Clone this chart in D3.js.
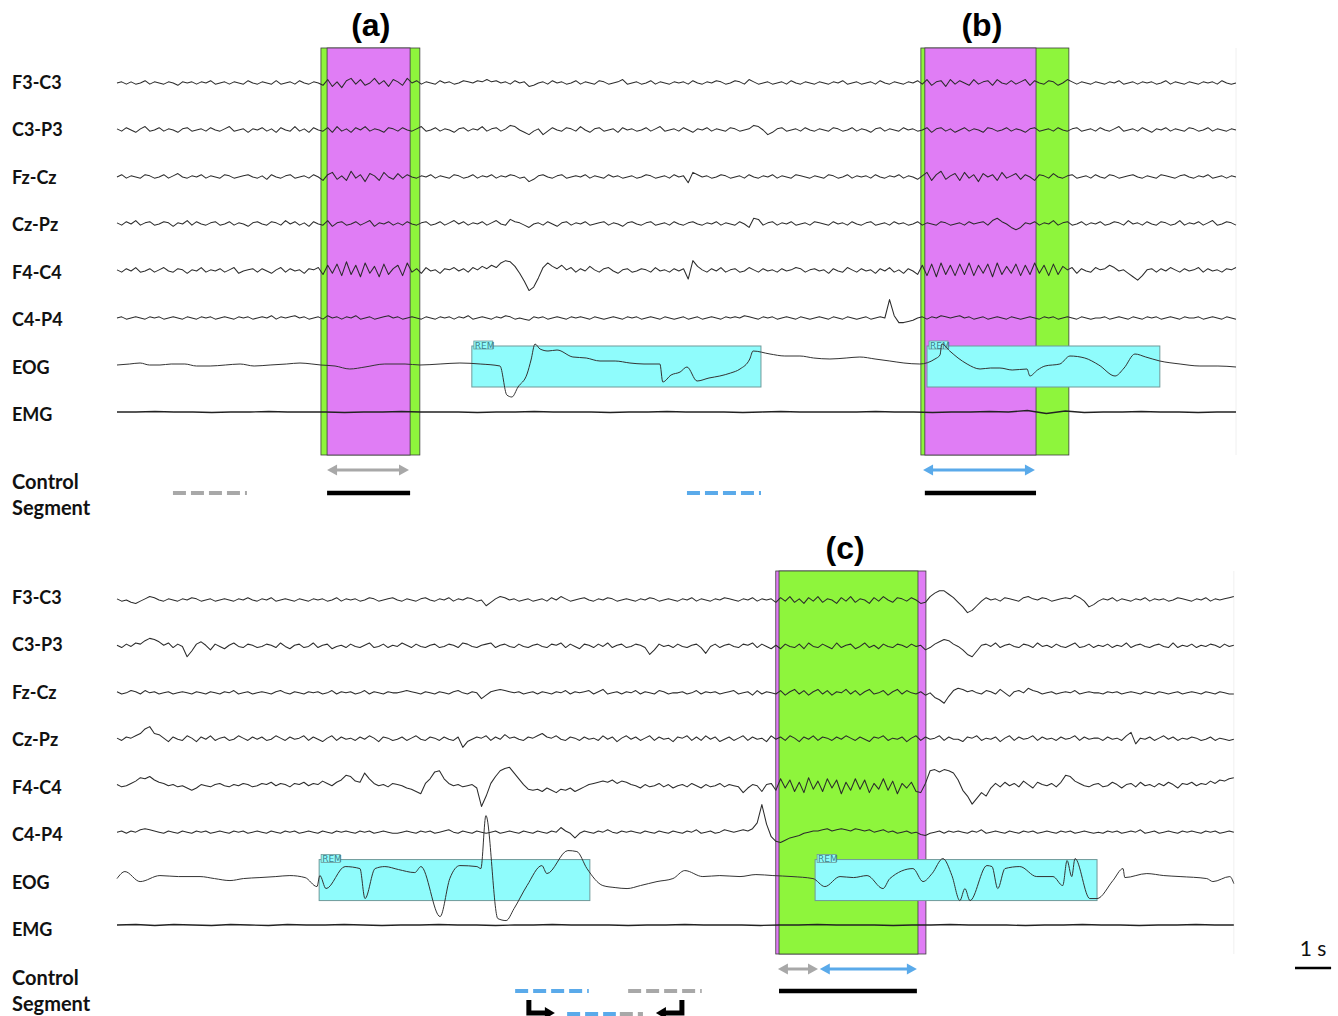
<!DOCTYPE html>
<html>
<head>
<meta charset="utf-8">
<script src="https://cdn.jsdelivr.net/npm/d3@7"></script>
<style>
  body { margin: 0; background: #fff; }
  text { font-family: Lato, "Open Sans", sans-serif; }
</style>
</head>
<body>
<script>
// channel names, top to bottom
let channels = ["F3-C3", "C3-P3", "Fz-Cz", "Cz-Pz", "F4-C4", "C4-P4", "EOG", "EMG"];

// ---- panel 1 (epochs a and b): EEG amplitudes, evenly sampled over 31 s ----
let p1_F3C3 = [0,1,-1,1,-1,0,2,-1,1,0, -1,1,0,-2,1,0,1,-1,1,0, 2,-1,0,1,-1,1,0,-1,2,0,
  -1,1,0,-1,2,-1,0,1,-1,2, 0,-1,1,0,-2,3,-3,1,-4,2, 4,-1,3,-2,0,4,-1,2,-3,3,
  1,-2,4,0,2,-1,1,0,-1,2, 0,1,-1,0,2,1,0,2,1,3, 1,2,0,1,-1,2,0,1,-3,-2,
  0,1,-1,2,0,1,-1,0,2,-1, 1,0,-1,2,1,-1,0,1,3,-1, 0,1,-1,0,2,-1,1,0,-1,1,
  0,1,-1,2,0,-1,1,0,2,1, -1,0,2,1,-1,3,1,-1,0,1, -1,0,1,-1,2,0,-1,1,0,-1,
  1,0,-1,1,0,2,-1,0,1,-1, 0,1,-1,2,0,-1,1,0,-1,1, 0,2,-1,3,-2,1,2,-3,3,-1,
  2,0,-2,3,-1,1,2,-2,3,0, -1,2,-1,1,3,-2,2,0,-1,2, 1,-2,0,3,1,-1,1,0,-1,1,
  0,-1,1,0,2,-1,0,1,-1,1, 0,1,-1,0,2,-1,1,0,-1,1, 0,-1,1,0,1,-1,2,0,-1,0];
let p1_C3P3 = [1,-1,2,0,-2,1,3,-1,0,2, -1,1,0,-2,1,2,-1,0,1,-1, 2,0,-1,1,3,-1,0,1,-2,1,
  0,2,-1,1,-2,2,0,-1,3,-1, 1,-2,2,0,-1,2,-2,3,-1,1, -2,2,0,3,-1,1,0,-2,2,1,
  -1,2,0,-1,1,3,-1,0,2,-1, 1,0,-2,1,2,-1,1,0,3,-1, 1,2,-1,1,4,3,0,-2,-4,-1,
  1,-4,-1,2,0,-1,2,1,-1,3, 0,-2,1,2,-1,0,1,-2,2,0, 1,-1,0,2,-1,1,3,-1,0,1,
  -1,2,0,-2,1,0,2,-1,1,0, -1,2,1,-1,0,1,4,3,0,-4, -2,1,2,-1,0,1,-1,2,0,-1,
  1,0,-1,2,1,-1,0,2,-1,1, 0,-2,1,2,-1,1,0,-1,2,0, 1,-1,0,2,-2,1,2,-1,1,-2,
  0,2,-1,1,0,-2,2,1,-1,0, 2,-1,1,0,-2,1,2,-1,0,1, -1,2,0,-1,1,2,-1,0,1,-1,
  2,0,-1,1,3,-1,0,1,-1,2, 0,-2,1,0,2,-1,1,0,-1,2, 1,-1,0,2,-1,1,0,-1,1,0];
let p1_FzCz = [0,2,-1,1,0,-1,2,1,-1,0, 2,-1,1,3,0,-1,1,0,2,-1, 1,0,-1,2,1,-1,0,1,2,0,
  -1,1,-2,2,0,-1,1,2,-1,0, 1,-1,2,0,-3,2,4,-2,1,-3, 5,-1,2,-4,3,1,-3,4,0,-2,
  3,-1,2,0,-1,1,0,2,-1,1, 0,-1,2,1,-1,0,2,-1,1,0, 2,-1,1,0,2,1,-1,0,-4,-2,
  1,2,0,-1,1,2,-1,0,1,0, 2,-1,1,0,-1,2,0,1,-1,0, 1,-1,0,2,1,-1,0,1,-1,2,
  0,1,-5,4,2,0,1,-1,0,2, 1,-1,0,1,-1,2,0,-1,1,0, 2,-1,1,0,-1,2,1,0,-1,1,
  0,-1,2,1,-1,0,2,-1,1,0, 1,-1,2,0,-1,1,0,2,-1,1, 0,-2,1,4,-3,2,5,-2,1,3,
  -3,4,-1,2,-4,3,0,2,-3,4, -1,1,3,-2,2,0,-3,2,1,-1, 3,0,-1,1,2,-1,0,1,-1,2,
  0,-1,2,1,-1,0,1,2,0,-1, 1,0,-1,2,1,0,-1,1,2,0, -1,1,0,2,-1,0,1,-1,1,0];
let p1_CzPz = [1,-1,2,0,3,-1,1,2,-1,0, 2,1,-2,1,0,3,-1,2,0,-1, 1,2,-1,0,2,-1,1,0,-2,1,
  2,0,-1,2,1,-1,3,0,2,-1, 1,-2,2,0,-1,3,-2,1,2,-1, 0,2,-1,1,3,-2,1,0,2,-1,
  1,-1,2,0,-1,1,2,-1,0,2, -1,1,3,0,2,-1,1,0,2,-1, 1,3,0,-1,4,2,1,-1,-3,0,
  1,-1,2,0,-2,1,2,-1,1,0, 2,-1,0,1,2,-1,1,0,-2,1, 2,0,-1,1,2,-1,0,1,-1,2,
  0,-1,1,2,0,-1,1,0,2,-1, 1,0,-1,2,0,-3,5,4,-1,1, 2,-1,1,0,2,-1,0,1,-1,2,
  1,0,-1,2,0,1,-1,2,0,-1, 1,2,-1,0,1,-1,2,0,1,-1, 0,2,-1,1,0,-1,2,1,-1,0,
  1,-1,2,0,1,2,-1,3,5,2, 0,-3,-5,-3,1,0,2,-1,1,0, 3,-1,1,2,-1,0,2,-1,1,0,
  2,-1,0,2,1,-1,3,0,1,-1, 2,0,-1,2,1,-1,0,3,-1,1, 0,2,-1,1,3,-1,0,2,1,-1];
let p1_F4C4 = [1,-1,2,0,3,-1,0,2,-1,1, 3,0,-1,2,1,-2,1,0,3,-1, 1,0,2,-1,1,3,-2,0,1,2,
  -1,2,0,-2,1,3,-1,2,0,1, -2,2,1,3,-3,5,-2,6,-4,8, -3,5,-5,7,-2,4,-5,6,-3,2,
  5,-4,7,-1,2,-2,3,0,1,-2, 2,1,3,0,2,-1,3,1,4,2, 5,3,7,9,8,4,-2,-9,-17,-14,
  -6,3,7,4,2,5,1,3,-1,2, 0,4,1,-1,2,3,0,-2,1,2, -1,0,2,1,-1,3,0,1,-1,2,
  0,2,-7,9,4,1,-1,2,0,3, -1,1,2,-1,0,3,1,-1,2,0, 1,-1,2,0,1,3,2,-1,1,2,
  0,1,-2,2,0,-1,3,1,-1,2, 0,1,-2,2,0,3,-1,1,-2,2, 0,-3,5,-4,6,-5,7,-3,5,-4,
  6,-3,7,-4,5,-2,6,-5,7,-3, 4,-2,6,-4,5,-3,7,-2,5,-4, 6,-3,4,1,3,-2,2,0,-1,3,
  1,2,5,3,0,1,-2,-5,-8,-4, 1,2,-1,2,0,3,1,-1,2,0, 1,3,-1,2,0,1,-1,2,1,3];
let p1_C4P4 = [0,1,-1,0,1,0,-1,1,0,1, -1,0,1,0,-1,1,0,-1,1,0, 1,-1,0,1,0,-1,1,0,1,-1,
  0,1,0,2,-1,1,0,1,2,0, 1,-1,0,1,-1,2,0,1,-1,1, 0,2,-1,0,1,-1,0,1,2,0,
  1,-1,0,1,0,-1,1,0,-1,1, 0,1,-1,1,0,2,-1,0,1,0, -1,1,0,2,1,-1,0,-1,-2,1,
  0,1,-1,0,1,0,-1,1,0,1, 0,-1,1,0,-1,0,1,0,-1,1, 0,1,-1,0,1,0,-1,1,0,-1,
  0,1,-1,0,1,-1,0,1,0,-1, 1,0,1,0,2,1,0,-1,1,0, 1,-1,0,1,0,-1,1,0,-1,0,
  1,0,-1,1,0,-1,1,0,-1,0, 1,-1,0,1,0,16,2,-4,-4,-3, -2,0,1,-1,1,0,2,1,0,1,
  2,0,1,-1,0,1,-1,0,1,0, -1,1,0,-1,0,1,0,-1,1,0, 1,-1,0,1,0,-1,1,0,-1,0,
  0,1,-1,0,1,0,-1,1,0,-1, 1,0,1,-1,0,1,0,-1,1,0, 0,1,-1,0,1,0,-1,1,0,-1];
// EOG as [seconds, amplitude]
let p1_EOG = [[0,0],[0.35,1],[0.64,2],[0.9,0],[1.19,0],[1.5,1],[1.88,1],[2.2,-1],[2.58,-1],[3.0,0],
  [3.41,1],[3.8,-1],[4.24,0],[4.7,1],[5.07,2],[5.4,1],[5.65,0],[6.04,-1],[6.45,-4],[6.87,-2],
  [7.42,1],[7.98,1],[8.39,0],[8.95,1],[9.5,2],[10.06,1],[10.61,-1],[10.8,-30],[10.94,-32],[11.11,-22],
  [11.36,-9],[11.47,5],[11.58,21],[11.72,16],[11.94,14],[12.19,15],[12.63,8],[13.0,7],[13.38,4],[13.8,4],
  [14.21,2],[14.6,1],[15.04,1],[15.12,-17],[15.35,-10],[15.6,-7],[15.79,-2],[16.07,-16],[16.4,-13],[16.7,-11],
  [17.0,-8],[17.26,-4],[17.53,6],[17.62,14],[18.09,11],[18.5,9],[18.92,9],[19.3,7],[19.75,6],[20.2,7],
  [20.58,8],[21.0,6],[21.41,4],[21.8,2],[22.24,1],[22.66,6],[22.8,10],[22.85,21],[23.07,14],[23.3,7],
  [23.55,1],[23.91,-4],[24.2,-3],[24.46,-3],[24.8,-5],[25.21,-4],[25.29,-11],[25.5,-5],[25.71,-1],[26.12,1],
  [26.4,9],[26.81,7],[27.2,0],[27.65,-11],[27.9,-3],[28.2,11],[28.5,8],[28.89,4],[29.45,1],[30.0,-1],
  [30.5,-1],[31.0,-2]];
let p1_EMG = [0,0,0.5,0,0,-0.5,0,0,0.5,0, 0,0,-0.5,0,0,0.5,0,0,0,-0.5, 0,0,0.5,0,0,0,-0.5,0,0,0.5,
  0,0,0,-0.5,0,0.5,0,0,0,0, 0.5,0,0,-0.5,0,0,0.5,0,1.5,-1.5, 1,-0.5,0,0,0.5,0,0,-0.5,0,0];

// ---- panel 2 (epoch c) ----
let p2_F3C3 = [1,-1,0,-2,-3,-1,1,3,2,0, -1,1,0,-1,1,0,2,1,-1,0, 1,-1,0,1,0,-1,1,0,2,0,
  -1,1,0,2,-1,0,1,0,-1,1, 0,-1,1,0,1,-1,0,2,-1,1, 0,1,-1,0,2,1,-1,0,1,2,
  0,-1,1,0,-1,1,2,0,-1,1, 0,2,-1,1,0,2,1,-1,0,-5, -2,1,3,2,0,1,-1,0,1,-1,
  0,1,-1,2,0,3,1,-1,0,1, 2,0,-1,1,0,2,1,-1,0,1, 0,-1,1,0,2,1,-1,0,1,0,
  -1,1,0,2,-1,1,0,-1,1,0, 2,1,0,-1,1,0,2,-1,1,0, 1,-2,2,-1,3,-2,1,-3,2,-1,
  3,-2,1,0,-3,2,-1,3,-2,1, 0,-3,2,-1,3,0,-2,2,1,-1, 2,0,-3,-2,3,6,8,8,5,2,
  -2,-6,-11,-9,-5,-1,2,0,1,-1, 2,1,0,-1,2,3,1,0,2,1, -1,0,1,2,1,4,2,-1,-6,-4,
  -1,1,0,2,-1,1,0,-1,1,0, 2,-1,1,0,1,-1,0,2,1,0, -1,1,0,2,-1,1,0,1,2,3];
let p2_C3P3 = [1,-1,2,0,3,2,5,7,6,4, 1,3,-1,2,0,-9,-4,2,4,1, -3,2,0,-2,1,3,0,-1,2,1,
  -1,0,2,1,-1,3,0,-2,1,2, -1,0,3,-1,1,2,-2,0,1,-1, 2,0,-1,1,3,-1,0,2,-1,1,
  0,3,1,-1,2,0,-1,1,2,-1, 0,2,1,-1,3,2,0,-1,1,2, 3,-1,1,2,0,-1,2,0,-1,1,
  2,0,-1,2,1,3,-1,2,0,-2, 2,1,-1,2,0,3,-1,1,2,-1, 0,2,1,-1,-7,-3,2,0,1,-1,
  2,0,-1,1,2,-1,-6,0,2,-1, 1,2,0,-1,2,1,3,-1,2,0, -2,1,-2,2,0,-1,2,-2,3,0,
  -1,2,0,-2,3,-1,1,2,-2,0, 3,-1,1,-2,2,0,-1,2,1,-1, 2,0,1,-3,-1,2,4,6,5,2,
  0,-3,-7,-9,-4,1,2,0,3,-1, 1,2,0,-1,2,1,-1,3,0,1, -1,2,0,-1,1,3,-1,0,2,-1,
  1,0,2,-1,1,0,3,-1,1,2, 0,-1,1,2,0,-1,3,-1,1,0, 2,-1,1,0,2,1,-1,2,0,1];
let p2_FzCz = [1,-1,0,2,1,-1,2,0,1,-1, 0,1,-1,0,1,0,-1,1,0,-1, 1,0,-1,1,0,2,-1,0,1,-1,
  0,1,0,-1,1,2,0,-1,1,0, -1,1,0,1,-1,0,2,-1,1,0, 1,-1,0,2,-1,1,0,-1,1,0,
  0,1,2,1,0,-1,1,0,-1,1, 0,-1,1,2,0,-1,1,0,-5,-2, 1,2,3,2,1,0,1,-1,0,1,
  -1,1,0,-1,1,0,2,-1,1,0, 1,2,-1,1,3,-1,0,1,-1,1, 0,2,-1,1,0,-1,2,1,-1,0,
  0,1,-1,0,2,-1,1,0,1,-1, 0,1,2,-1,0,1,-2,2,-1,1, 0,-1,2,-2,1,3,-1,2,-2,1,
  3,-1,2,-2,1,0,3,-1,2,-2, 1,3,-1,0,2,-2,1,3,-1,2, 0,-1,1,-2,0,-4,-6,-9,-3,2,
  4,3,1,2,0,-1,2,1,-1,3, 0,-3,1,2,0,4,2,1,-1,0, 1,-1,0,1,0,2,-1,0,1,0,
  0,-1,1,0,1,-1,0,1,0,-1, 1,0,-1,1,0,-1,0,1,-1,0, 1,0,-1,1,0,-1,1,0,-1,-1];
let p2_CzPz = [1,-1,2,1,3,5,9,11,5,4, 1,-2,2,0,-1,3,1,-2,2,0, 3,-1,1,2,-1,0,3,1,-1,2,
  0,2,-1,0,3,1,-1,2,0,1, 3,-1,2,0,-2,1,3,-1,2,0, 1,-1,2,0,3,1,-2,2,1,-1,
  0,2,-1,1,3,0,-1,2,1,-1, 2,0,-1,2,-7,-2,0,2,1,3, -1,2,0,4,1,2,0,-1,2,1,
  3,5,2,1,3,0,-1,2,1,-1, 2,0,1,-1,3,0,2,-2,1,3, 0,2,-1,1,3,-1,2,0,1,-2,
  2,1,3,-1,2,-1,3,0,2,-2, 0,2,-1,1,3,-1,2,0,1,-2, 3,0,2,-1,3,1,-2,2,0,3,
  -1,2,1,-1,2,0,3,1,-1,2, 0,-2,2,1,3,-1,1,0,2,-2, 1,3,-1,2,0,1,3,-1,2,0,
  0,-2,2,1,3,-1,1,0,2,-2, 1,3,-1,2,0,1,3,-1,2,0, 1,-1,2,0,1,3,-1,2,0,1,
  1,-1,2,0,1,-1,3,6,-4,1, 0,2,-1,1,3,0,2,-1,1,0, 2,1,-1,0,2,-1,1,0,-1,0];
let p2_F4C4 = [1,-1,0,2,4,7,6,8,5,3, 2,0,1,-1,0,-2,-4,-2,1,0, -1,1,2,0,-1,1,0,2,1,-1,
  0,2,1,3,0,2,1,-1,2,1, 3,0,2,1,4,2,0,3,5,9, 8,4,3,11,6,2,0,1,-1,2,
  1,0,-2,-3,-5,-7,2,6,12,13, 6,2,0,1,-1,0,1,-2,-18,-9, 2,8,13,15,16,11,6,1,-3,-4,
  -3,-5,-2,-4,-6,-3,-4,-2,-5,-3, -1,1,2,3,4,3,5,2,4,3, 1,0,-2,1,-1,0,2,-1,1,-2,
  0,1,-1,2,0,-2,1,-1,0,2, -1,1,0,-1,-6,-2,1,0,-5,1, 2,-4,6,-2,5,-5,3,-6,7,-3,
  4,-5,6,-2,5,-7,3,-4,6,-3, 5,-6,2,-3,6,-4,4,-7,2,-2, 3,-5,-6,2,13,14,12,14,13,11,
  5,-4,-9,-16,-11,-6,-9,-2,2,-1, 3,0,2,-1,4,1,-2,3,1,0, 2,-1,3,9,8,4,2,0,-1,1,
  2,-1,0,3,1,-2,1,2,-1,3, 0,1,-1,2,0,3,1,-2,2,1, 3,0,2,1,4,2,5,4,6,7];
let p2_C4P4 = [0,1,-1,1,0,2,3,2,1,0, -1,1,0,-1,1,0,-1,1,0,1, -1,0,1,0,-1,1,0,1,-1,0,
  1,0,-1,1,0,-1,1,0,1,-1, 0,1,0,-1,1,0,-1,1,0,1, 0,-1,1,0,1,-1,0,1,0,-1,
  -1,0,1,0,-1,1,0,1,-1,0, 1,2,0,-1,1,0,-1,1,0,-1, 0,1,-1,0,1,0,-1,1,0,-1,
  1,0,-1,1,0,4,1,-1,-5,-1, 1,0,-1,1,0,2,0,-1,1,0, 1,0,-1,1,0,-1,1,0,-1,1,
  0,-1,1,0,2,-1,0,1,-1,0, 2,1,0,1,2,1,3,8,24,7, -4,-8,-9,-7,-5,-4,-3,-1,0,1,
  1,2,3,1,2,3,2,1,3,2, 1,2,0,1,2,0,1,-1,0,1, -1,0,-2,-3,-1,0,1,-1,1,0,
  1,0,-1,1,0,2,-1,0,1,0, -1,1,0,-1,1,0,1,-1,0,1, 0,-1,1,0,1,-1,0,1,0,-1,
  0,-1,1,0,1,-1,0,1,0,2, -1,0,1,-1,0,1,0,-1,1,0, 1,0,-1,1,0,1,-1,0,1,0];
let p2_EOG = [[0,0],[0.22,7],[0.64,-3],[1.19,3],[1.7,2],[2.3,2],[2.7,0],[3.13,-2],[3.5,0],[3.96,1],
  [4.4,2],[4.79,3],[5.21,1],[5.54,-8],[5.62,3],[5.79,-10],[6.32,12],[6.73,10],[6.87,-20],[7.15,10],
  [7.42,12],[7.8,9],[8.25,6],[8.42,12],[8.95,-38],[9.22,0],[9.5,13],[9.97,12],[10.08,10],[10.22,63],
  [10.55,-40],[10.78,-42],[11.0,-30],[11.36,-7],[11.77,13],[11.91,5],[12.49,28],[12.74,27],[13.02,10],[13.46,-7],
  [13.8,-9],[14.13,-10],[14.5,-7],[14.96,-3],[15.4,0],[15.73,8],[16.23,2],[16.7,3],[17.26,2],[17.7,4],
  [18.17,3],[18.7,2],[19.28,0],[19.61,-8],[20.03,2],[20.4,1],[20.78,3],[21.22,-10],[21.41,0],[22.05,10],
  [22.33,-3],[22.58,5],[22.88,20],[23.13,3],[23.35,-22],[23.49,-10],[23.63,-22],[24.1,13],[24.24,12],[24.4,-10],
  [24.6,10],[25.01,12],[25.48,2],[25.93,2],[26.2,-7],[26.32,18],[26.45,2],[26.54,20],[26.95,-20],[27.15,-20],
  [27.59,-2],[27.87,10],[27.92,1],[28.53,5],[29.0,3],[29.45,2],[30.19,0],[30.36,-3],[30.83,2],[30.94,-5]];
let p2_EMG = [0,0.5,-0.5,0.5,0,-0.5,0.5,0,-0.5,0.5, 0,0,0.5,0,-0.5,0,0,0.5,0,0, -0.5,0,0,0.5,0,0,0,-0.5,0,0,
  0.5,0,0,0,-0.5,0,0,0.5,0,0, 0,-0.5,0,0,0.5,0,0,0,-0.5,0, 0,0.5,0,0,-0.5,0,0,0.5,0,0];

// marked epochs (seconds)
let p1_bands = [["green", 5.65, 8.39], ["magenta", 5.82, 8.12], ["green", 22.27, 26.37], ["magenta", 22.38, 25.46]];
let p2_bands = [["magenta", 18.25, 22.41], ["green", 18.34, 22.19]];
let p1_rem = [[9.83, 17.84], [22.44, 28.89]];
let p2_rem = [[5.60, 13.10], [19.34, 27.15]];
let p1_titles = [["(a)", 7.03], ["(b)", 23.96]];
let p2_titles = [["(c)", 20.17]];

// control segment marks: [kind, colour, start, end]
let p1_ctrl = [["dash", "gray", 1.55, 3.60], ["arrow", "gray", 5.82, 8.09], ["bar", "black", 5.82, 8.12],
  ["dash", "blue", 15.79, 17.84], ["arrow", "blue", 22.33, 25.43], ["bar", "black", 22.38, 25.46]];
let p2_ctrl = [["arrow", "gray", 18.31, 19.42], ["arrow", "blue", 19.47, 22.16], ["bar", "black", 18.34, 22.16],
  ["dash", "blue", 11.03, 13.07], ["dash", "gray", 14.16, 16.20]];
// the shifted copy of the two dashed segments under panel c
let p2_shift = [["elbowR", 11.41, 12.13], ["dash", "blue", 12.47, 13.82], ["dash", "gray", 13.93, 14.57], ["elbowL", 15.65, 14.93]];

const colors = { green: "#8ef53c", magenta: "#e07df5", gray: "#a8a8a8", blue: "#5aaaea", black: "#000" };

const width = 1338, height = 1016;
let svg = d3.select("body").append("svg")
  .attr("width", width)
  .attr("height", height);
svg.append("rect").attr("width", width).attr("height", height).attr("fill", "#fff");

let x = d3.scaleLinear().domain([0, 31]).range([117, 1236]);
let amp = d3.scaleLinear().domain([-1, 1]).range([1, -1]);      // EOG / EMG gain
let eegAmp = d3.scaleLinear().domain([-1, 1]).range([1.15, -1.15]);

let panels = [
  { top: 48, bottom: 455, rows: [83, 412], labels: [82, 414], ctrlY: [470, 493], ctrlText: [481, 507], T: 31,
    eeg: [p1_F3C3, p1_C3P3, p1_FzCz, p1_CzPz, p1_F4C4, p1_C4P4], eog: p1_EOG, emg: p1_EMG,
    bands: p1_bands, rem: p1_rem, titles: p1_titles, titleY: 36, ctrl: p1_ctrl },
  { top: 571, bottom: 954, rows: [600, 925], labels: [597, 929], ctrlY: [969, 991], ctrlText: [977, 1003], T: 30.94,
    eeg: [p2_F3C3, p2_C3P3, p2_FzCz, p2_CzPz, p2_F4C4, p2_C4P4], eog: p2_EOG, emg: p2_EMG,
    bands: p2_bands, rem: p2_rem, titles: p2_titles, titleY: 559, ctrl: p2_ctrl }
];

function drawArrow(g, t0, t1, y, color) {
  let a = x(t0), b = x(t1), h = 10, w = 5.5;
  g.append("line").attr("x1", a + h - 1).attr("x2", b - h + 1).attr("y1", y).attr("y2", y)
    .attr("stroke", color).attr("stroke-width", 3);
  g.append("path").attr("d", `M${a},${y}L${a + h},${y - w}L${a + h},${y + w}Z`).attr("fill", color);
  g.append("path").attr("d", `M${b},${y}L${b - h},${y - w}L${b - h},${y + w}Z`).attr("fill", color);
}

function drawDash(g, t0, t1, y, color) {
  g.append("line").attr("x1", x(t0)).attr("x2", x(t1)).attr("y1", y).attr("y2", y)
    .attr("stroke", color).attr("stroke-width", 4).attr("stroke-dasharray", "13,5");
}

panels.forEach(function(p) {
  let g = svg.append("g");
  let rowY = d3.scalePoint().domain(channels).range(p.rows);
  let labY = d3.scalePoint().domain(channels).range(p.labels);

  // faint edge of the recording window
  g.append("line").attr("x1", x(p.T)).attr("x2", x(p.T)).attr("y1", p.top).attr("y2", p.bottom)
    .attr("stroke", "#f0f0f0");

  // marked epochs
  g.selectAll("rect.band").data(p.bands).enter().append("rect")
    .attr("class", "band")
    .attr("x", d => x(d[1]))
    .attr("width", d => x(d[2]) - x(d[1]))
    .attr("y", p.top).attr("height", p.bottom - p.top)
    .attr("fill", d => colors[d[0]])
    .attr("stroke", "#3d3d3d").attr("stroke-width", 0.8);

  // REM annotations on EOG
  let eogY = rowY("EOG");
  p.rem.forEach(function(r) {
    g.append("rect").attr("x", x(r[0])).attr("width", x(r[1]) - x(r[0]))
      .attr("y", eogY - 19).attr("height", 41)
      .attr("fill", "#8ffcfc").attr("stroke", "#6f9a9a").attr("stroke-width", 1);
    g.append("rect").attr("x", x(r[0]) + 2).attr("width", 19)
      .attr("y", eogY - 24).attr("height", 8)
      .attr("fill", "#8ffcfc").attr("stroke", "#6f9a9a").attr("stroke-width", 0.8);
    g.append("text").attr("x", x(r[0]) + 3).attr("y", eogY - 16.5)
      .attr("font-size", 9).attr("fill", "#3f7f8a").style("font-family", "'DejaVu Sans', sans-serif")
      .text("REM");
  });

  // traces
  let eegLine = d3.line().x(d => x(d[0])).y(d => d[2] + eegAmp(d[1]));
  p.eeg.forEach(function(arr, k) {
    let base = rowY(channels[k]);
    let pts = arr.map((v, i) => [i * p.T / (arr.length - 1), v, base]);
    g.append("path").attr("d", eegLine(pts)).attr("fill", "none")
      .attr("stroke", "#2b2b2b").attr("stroke-width", 1.05).attr("stroke-linejoin", "round");
  });
  let eogLine = d3.line().x(d => x(d[0])).y(d => eogY + amp(d[1])).curve(d3.curveMonotoneX);
  g.append("path").attr("d", eogLine(p.eog)).attr("fill", "none")
    .attr("stroke", "#333").attr("stroke-width", 1);
  let emgY = rowY("EMG");
  let line = d3.line().x(d => x(d[0])).y(d => d[2] + amp(d[1]));
  let emgPts = p.emg.map((v, i) => [i * p.T / (p.emg.length - 1), v, emgY]);
  g.append("path").attr("d", line(emgPts)).attr("fill", "none")
    .attr("stroke", "#222").attr("stroke-width", 1.3);

  // channel labels
  g.selectAll("text.ch").data(channels).enter().append("text")
    .attr("class", "ch")
    .attr("x", 12).attr("y", d => labY(d))
    .attr("dominant-baseline", "central")
    .attr("font-size", 18).attr("font-weight", "bold").attr("fill", "#111")
    .text(d => d);

  // epoch titles
  g.selectAll("text.title").data(p.titles).enter().append("text")
    .attr("class", "title")
    .attr("x", d => x(d[1])).attr("y", p.titleY)
    .attr("text-anchor", "middle")
    .style("font-family", "'Liberation Sans', Arial, sans-serif")
    .attr("font-size", 32).attr("font-weight", "bold").attr("fill", "#000")
    .text(d => d[0]);

  // control segment row
  g.append("text").attr("x", 12).attr("y", p.ctrlText[0]).attr("dominant-baseline", "central")
    .attr("font-size", 20).attr("font-weight", "bold").attr("fill", "#111").text("Control");
  g.append("text").attr("x", 12).attr("y", p.ctrlText[1]).attr("dominant-baseline", "central")
    .attr("font-size", 20).attr("font-weight", "bold").attr("fill", "#111").text("Segment");

  p.ctrl.forEach(function(c) {
    if (c[0] === "arrow") drawArrow(g, c[2], c[3], p.ctrlY[0], colors[c[1]]);
    else if (c[0] === "dash") drawDash(g, c[2], c[3], p.ctrlY[1], colors[c[1]]);
    else g.append("line").attr("x1", x(c[2])).attr("x2", x(c[3]))
      .attr("y1", p.ctrlY[1]).attr("y2", p.ctrlY[1])
      .attr("stroke", "#000").attr("stroke-width", 4.5);
  });
});

// shifted segments under panel c, with elbow arrows
let sy = 1013;
p2_shift.forEach(function(s) {
  if (s[0] === "dash") { drawDash(svg, s[2], s[3], sy + 1, colors[s[1]]); return; }
  let a = x(s[1]), tip = x(s[2]), dir = tip > a ? 1 : -1;
  svg.append("path").attr("d", `M${a},1000V${sy}H${tip - dir * 9}`)
    .attr("fill", "none").attr("stroke", "#000").attr("stroke-width", 5);
  svg.append("path").attr("d", `M${tip},${sy}L${tip - dir * 10},${sy - 6}L${tip - dir * 10},${sy + 6}Z`)
    .attr("fill", "#000");
});

// 1 s scale bar
let sx = 1295;
svg.append("line").attr("x1", sx).attr("x2", sx + x(1) - x(0)).attr("y1", 968).attr("y2", 968)
  .attr("stroke", "#000").attr("stroke-width", 2.5);
svg.append("text").attr("x", sx + (x(1) - x(0)) / 2).attr("y", 947)
  .attr("text-anchor", "middle").attr("dominant-baseline", "central")
  .attr("font-size", 21).attr("fill", "#111").text("1 s");
</script>
</body>
</html>
